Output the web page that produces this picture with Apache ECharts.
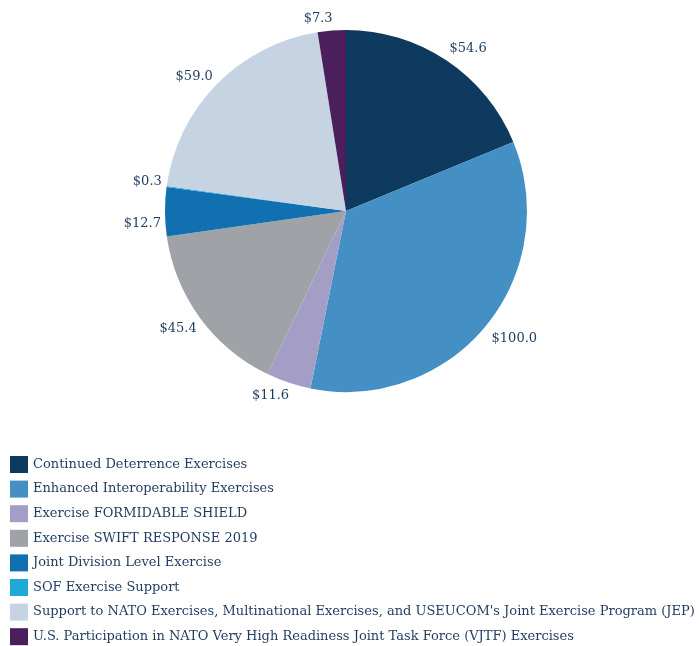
<!DOCTYPE html>
<html>
<head>
<meta charset="utf-8">
<script src="https://cdn.jsdelivr.net/npm/echarts@6/dist/echarts.min.js"></script>
<style>html,body{margin:0;padding:0;background:#fff;}#main{width:699px;height:646px;}</style>
</head>
<body>
<div id="main"></div>
<script>
const categories = [
  "Continued Deterrence Exercises",
  "Enhanced Interoperability Exercises",
  "Exercise FORMIDABLE SHIELD",
  "Exercise SWIFT RESPONSE 2019",
  "Joint Division Level Exercise",
  "SOF Exercise Support",
  "Support to NATO Exercises, Multinational Exercises, and USEUCOM's Joint Exercise Program (JEP)",
  "U.S. Participation in NATO Very High Readiness Joint Task Force (VJTF) Exercises"
];
const values = [54.6, 100.0, 11.6, 45.4, 12.7, 0.3, 59.0, 7.3];
const colors = ["#0d3a5e", "#4490c4", "#a49ec6", "#9fa3a7", "#1170b0", "#1fa9d6", "#c5d3e2", "#4a1f5c"];

const labelOffsets = { 1: [0, 4], 3: [3, 2], 4: [5, 12], 5: [4, -3], 6: [1, 2], 7: [-3, 2] };

const chart = echarts.init(document.getElementById('main'));
chart.setOption({
  animation: false,
  color: colors,
  textStyle: { fontFamily: 'DejaVu Serif' },
  legend: {
    orient: 'vertical',
    left: 10,
    top: 456,
    padding: 0,
    icon: 'rect',
    itemWidth: 18,
    itemHeight: 17,
    itemGap: 7.6,
    textStyle: { fontFamily: 'DejaVu Serif', fontSize: 13, color: '#1f3a5f' },
    data: categories
  },
  series: [{
    type: 'pie',
    center: [346, 211],
    radius: 181,
    startAngle: 90,
    clockwise: true,
    avoidLabelOverlap: false,
    label: {
      show: true,
      position: 'outside',
      formatter: p => '$' + p.value.toFixed(1),
      fontFamily: 'DejaVu Serif',
      fontSize: 13,
      color: '#1f3a5f',
      distanceToLabelLine: -5
    },
    labelLine: { show: false, length: 14, length2: 0 },
    itemStyle: { borderWidth: 0 },
    emphasis: { disabled: true },
    data: categories.map((c, i) => ({
      name: c,
      value: values[i],
      label: labelOffsets[i] ? { offset: labelOffsets[i] } : undefined
    }))
  }]
});
</script>
</body>
</html>
